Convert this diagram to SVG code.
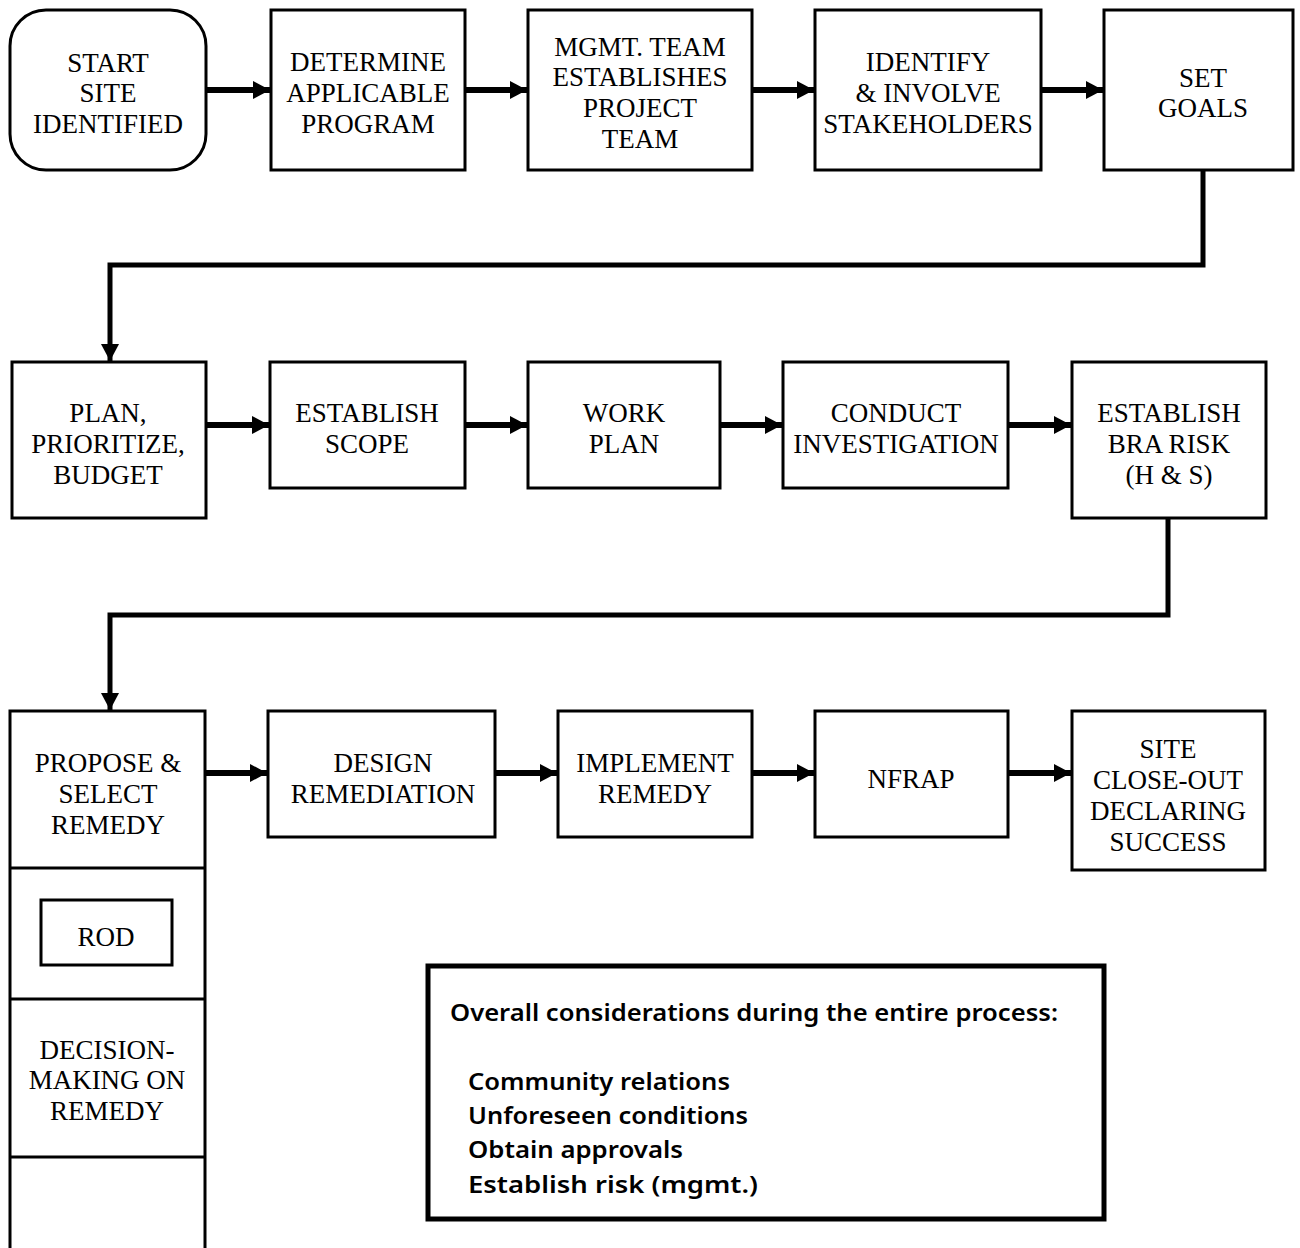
<svg xmlns="http://www.w3.org/2000/svg" width="1300" height="1248" viewBox="0 0 1300 1248">
<defs>
<style>
.box{fill:#fff;stroke:#000;stroke-width:3}
.t{font-family:"Liberation Serif","Times New Roman",serif;font-size:27px;fill:#000;text-anchor:middle}
.s{font-family:"Noto Sans","Open Sans",sans-serif;font-size:24px;font-weight:600;fill:#000}
.arr{stroke:#000;stroke-width:6;fill:none}
.conn{stroke:#000;stroke-width:5;fill:none}
</style>
<marker id="ah" markerWidth="18" markerHeight="18" refX="17" refY="9" orient="auto" markerUnits="userSpaceOnUse">
<path d="M0,0 L17,9 L0,18 Z" fill="#000"/>
</marker>
</defs>
<rect width="1300" height="1248" fill="#fff"/>

<g id="connectors">
<line class="arr" x1="206" y1="90" x2="270" y2="90" marker-end="url(#ah)"/>
<line class="arr" x1="465" y1="90" x2="527" y2="90" marker-end="url(#ah)"/>
<line class="arr" x1="752" y1="90" x2="814" y2="90" marker-end="url(#ah)"/>
<line class="arr" x1="1041" y1="90" x2="1103" y2="90" marker-end="url(#ah)"/>
<polyline class="conn" points="1203,170 1203,265 110,265 110,361" marker-end="url(#ah)"/>
<line class="arr" x1="206" y1="425" x2="269" y2="425" marker-end="url(#ah)"/>
<line class="arr" x1="465" y1="425" x2="527" y2="425" marker-end="url(#ah)"/>
<line class="arr" x1="720" y1="425" x2="782" y2="425" marker-end="url(#ah)"/>
<line class="arr" x1="1008" y1="425" x2="1071" y2="425" marker-end="url(#ah)"/>
<polyline class="conn" points="1168,518 1168,615 110,615 110,710" marker-end="url(#ah)"/>
<line class="arr" x1="205" y1="773" x2="267" y2="773" marker-end="url(#ah)"/>
<line class="arr" x1="495" y1="773" x2="557" y2="773" marker-end="url(#ah)"/>
<line class="arr" x1="752" y1="773" x2="814" y2="773" marker-end="url(#ah)"/>
<line class="arr" x1="1008" y1="773" x2="1071" y2="773" marker-end="url(#ah)"/>
</g>

<g id="start">
<rect class="box" x="10" y="10" width="196" height="160" rx="36" ry="36"/>
<text class="t" x="108" y="72">START</text>
<text class="t" x="108" y="102">SITE</text>
<text class="t" x="108" y="133">IDENTIFIED</text>
</g>
<g id="determine">
<rect class="box" x="271" y="10" width="194" height="160"/>
<text class="t" x="368" y="71">DETERMINE</text>
<text class="t" x="368" y="102">APPLICABLE</text>
<text class="t" x="368" y="133">PROGRAM</text>
</g>
<g id="mgmt">
<rect class="box" x="528" y="10" width="224" height="160"/>
<text class="t" x="640" y="56">MGMT. TEAM</text>
<text class="t" x="640" y="86">ESTABLISHES</text>
<text class="t" x="640" y="117">PROJECT</text>
<text class="t" x="640" y="148">TEAM</text>
</g>
<g id="identify">
<rect class="box" x="815" y="10" width="226" height="160"/>
<text class="t" x="928" y="71">IDENTIFY</text>
<text class="t" x="928" y="102">&amp; INVOLVE</text>
<text class="t" x="928" y="133">STAKEHOLDERS</text>
</g>
<g id="goals">
<rect class="box" x="1104" y="10" width="189" height="160"/>
<text class="t" x="1203" y="87">SET</text>
<text class="t" x="1203" y="117">GOALS</text>
</g>

<g id="plan">
<rect class="box" x="12" y="362" width="194" height="156"/>
<text class="t" x="108" y="422">PLAN,</text>
<text class="t" x="108" y="453">PRIORITIZE,</text>
<text class="t" x="108" y="484">BUDGET</text>
</g>
<g id="scope">
<rect class="box" x="270" y="362" width="195" height="126"/>
<text class="t" x="367" y="422">ESTABLISH</text>
<text class="t" x="367" y="453">SCOPE</text>
</g>
<g id="workplan">
<rect class="box" x="528" y="362" width="192" height="126"/>
<text class="t" x="624" y="422">WORK</text>
<text class="t" x="624" y="453">PLAN</text>
</g>
<g id="investigation">
<rect class="box" x="783" y="362" width="225" height="126"/>
<text class="t" x="896" y="422">CONDUCT</text>
<text class="t" x="896" y="453">INVESTIGATION</text>
</g>
<g id="bra">
<rect class="box" x="1072" y="362" width="194" height="156"/>
<text class="t" x="1169" y="422">ESTABLISH</text>
<text class="t" x="1169" y="453">BRA RISK</text>
<text class="t" x="1169" y="484">(H &amp; S)</text>
</g>

<g id="propose">
<rect class="box" x="10" y="711" width="195" height="545"/>
<line x1="10" y1="868" x2="205" y2="868" stroke="#000" stroke-width="3"/>
<line x1="10" y1="999" x2="205" y2="999" stroke="#000" stroke-width="3"/>
<line x1="10" y1="1157" x2="205" y2="1157" stroke="#000" stroke-width="3"/>
<text class="t" x="108" y="772">PROPOSE &amp;</text>
<text class="t" x="108" y="803">SELECT</text>
<text class="t" x="108" y="834">REMEDY</text>
<text class="t" x="107" y="1059">DECISION-</text>
<text class="t" x="107" y="1089">MAKING ON</text>
<text class="t" x="107" y="1120">REMEDY</text>
</g>
<g id="rod">
<rect class="box" x="41" y="900" width="131" height="65"/>
<text class="t" x="106" y="946">ROD</text>
</g>
<g id="design">
<rect class="box" x="268" y="711" width="227" height="126"/>
<text class="t" x="383" y="772">DESIGN</text>
<text class="t" x="383" y="803">REMEDIATION</text>
</g>
<g id="implement">
<rect class="box" x="558" y="711" width="194" height="126"/>
<text class="t" x="655" y="772">IMPLEMENT</text>
<text class="t" x="655" y="803">REMEDY</text>
</g>
<g id="nfrap">
<rect class="box" x="815" y="711" width="193" height="126"/>
<text class="t" x="911" y="788">NFRAP</text>
</g>
<g id="closeout">
<rect class="box" x="1072" y="711" width="193" height="159"/>
<text class="t" x="1168" y="758">SITE</text>
<text class="t" x="1168" y="789">CLOSE-OUT</text>
<text class="t" x="1168" y="820">DECLARING</text>
<text class="t" x="1168" y="851">SUCCESS</text>
</g>

<g id="considerations">
<rect x="428" y="966" width="676" height="253" fill="#fff" stroke="#000" stroke-width="5"/>
<text class="s" x="450" y="1021" textLength="608" lengthAdjust="spacingAndGlyphs">Overall considerations during the entire process:</text>
<text class="s" x="468" y="1090" textLength="262" lengthAdjust="spacingAndGlyphs">Community relations</text>
<text class="s" x="468" y="1124" textLength="280" lengthAdjust="spacingAndGlyphs">Unforeseen conditions</text>
<text class="s" x="468" y="1158" textLength="215" lengthAdjust="spacingAndGlyphs">Obtain approvals</text>
<text class="s" x="468" y="1193" textLength="290" lengthAdjust="spacingAndGlyphs">Establish risk (mgmt.)</text>
</g>
</svg>
